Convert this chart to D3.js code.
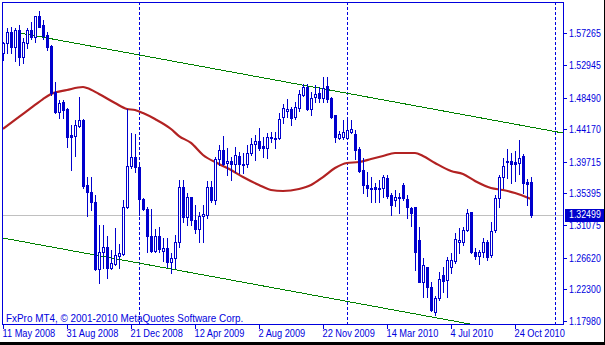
<!DOCTYPE html>
<html><head><meta charset="utf-8">
<script src="https://cdn.jsdelivr.net/npm/d3@7"></script>
<style>
body{margin:0;background:#fff;overflow:hidden}
svg{display:block}
text{font-family:"Liberation Sans",Arial,sans-serif;font-size:11px}
</style>
</head><body><svg id="chart" width="605" height="345"></svg>
<script>
// ---- data (EURUSD, W1) ----
const opens=[1.5458,1.5594,1.5744,1.5540,1.5772,1.5403,1.5594,1.5772,1.5676,1.5963,1.5840,1.5703,1.5553,1.4925,1.4652,1.4789,1.4693,1.4338,1.4324,1.4461,1.4543,1.3655,1.3560,1.3423,1.2508,1.2740,1.2809,1.2522,1.2576,1.2686,1.2713,1.3355,1.3915,1.4037,1.3901,1.3464,1.3327,1.2959,1.2754,1.2959,1.2754,1.2795,1.2604,1.2658,1.2877,1.3628,1.3218,1.3491,1.3177,1.3054,1.3232,1.3246,1.3628,1.3450,1.4010,1.4133,1.3956,1.3983,1.3942,1.4051,1.3935,1.3942,1.4092,1.4215,1.4256,1.4188,1.4160,1.4311,1.4283,1.4297,1.4584,1.4666,1.4693,1.4584,1.4707,1.4884,1.4993,1.4693,1.4857,1.4911,1.4843,1.5007,1.4843,1.4611,1.4297,1.4311,1.4297,1.4379,1.4351,1.4147,1.3860,1.3655,1.3614,1.3628,1.3601,1.3614,1.3751,1.3519,1.3450,1.3478,1.3655,1.3464,1.3341,1.3355,1.2904,1.2331,1.2535,1.2262,1.1921,1.2112,1.2426,1.2358,1.2535,1.2617,1.2877,1.2877,1.3041,1.3286,1.2740,1.2686,1.2740,1.2877,1.2699,1.3041,1.3478,1.3764,1.3983,1.3983,1.3969,1.3956,1.4051,1.3696,1.3696];
const highs=[1.5608,1.5799,1.5813,1.5799,1.5840,1.5662,1.5799,1.5881,1.5963,1.6031,1.5908,1.5744,1.5567,1.5062,1.4816,1.4816,1.4707,1.4474,1.4543,1.4857,1.4556,1.3764,1.3764,1.3519,1.3109,1.3109,1.2959,1.2768,1.3068,1.2850,1.3450,1.4693,1.4365,1.4351,1.3928,1.3478,1.3355,1.3327,1.3054,1.3082,1.2931,1.2931,1.2727,1.2972,1.3723,1.3723,1.3546,1.3491,1.3382,1.3286,1.3382,1.3710,1.3710,1.4037,1.4201,1.4324,1.4160,1.4037,1.4174,1.4106,1.4092,1.4201,1.4297,1.4338,1.4433,1.4311,1.4365,1.4379,1.4379,1.4638,1.4761,1.4829,1.4720,1.4789,1.4952,1.5034,1.5034,1.4925,1.5021,1.4993,1.5130,1.5130,1.4857,1.4611,1.4393,1.4543,1.4570,1.4543,1.4406,1.4174,1.4024,1.3833,1.3764,1.3682,1.3723,1.3792,1.3792,1.3546,1.3587,1.3546,1.3682,1.3519,1.3355,1.3355,1.3082,1.2658,1.2535,1.2331,1.2139,1.2467,1.2535,1.2672,1.2727,1.3000,1.3068,1.3082,1.3327,1.3286,1.2795,1.2768,1.2931,1.2904,1.3150,1.3519,1.3792,1.4024,1.4147,1.4092,1.4119,1.4270,1.4078,1.3737,1.3764];
const lows=[1.5362,1.5458,1.5458,1.5348,1.5294,1.5321,1.5526,1.5649,1.5608,1.5813,1.5649,1.5499,1.4884,1.4638,1.4570,1.4570,1.4174,1.3860,1.4051,1.4447,1.3614,1.3232,1.3314,1.2494,1.2317,1.2522,1.2385,1.2508,1.2563,1.2522,1.2699,1.3341,1.3887,1.3833,1.3246,1.3314,1.2740,1.2740,1.2740,1.2740,1.2617,1.2535,1.2453,1.2522,1.2809,1.3150,1.3109,1.3109,1.3000,1.2877,1.2877,1.3205,1.3423,1.3396,1.3928,1.3928,1.3792,1.3723,1.3833,1.3819,1.3819,1.3901,1.4065,1.3997,1.4133,1.4037,1.4024,1.4242,1.4160,1.4283,1.4502,1.4584,1.4474,1.4556,1.4666,1.4870,1.4679,1.4611,1.4789,1.4789,1.4789,1.4789,1.4570,1.4242,1.4283,1.4283,1.4283,1.4365,1.4010,1.3833,1.3546,1.3505,1.3423,1.3423,1.3423,1.3491,1.3478,1.3246,1.3368,1.3273,1.3450,1.3205,1.3095,1.2494,1.2331,1.2126,1.2126,1.1935,1.1880,1.2085,1.2194,1.2126,1.2453,1.2590,1.2727,1.2836,1.3027,1.2727,1.2645,1.2576,1.2672,1.2631,1.2672,1.3013,1.3355,1.3614,1.3751,1.3682,1.3710,1.3805,1.3546,1.3382,1.3218];
const closes=[1.5594,1.5744,1.5540,1.5772,1.5403,1.5608,1.5772,1.5676,1.5963,1.5813,1.5690,1.5540,1.4911,1.4652,1.4775,1.4679,1.4311,1.4311,1.4474,1.4543,1.3641,1.3560,1.3423,1.2508,1.2740,1.2809,1.2522,1.2590,1.2699,1.2727,1.3355,1.3915,1.4037,1.3901,1.3464,1.3327,1.2959,1.2754,1.2959,1.2781,1.2795,1.2604,1.2658,1.2877,1.3628,1.3218,1.3491,1.3177,1.3054,1.3232,1.3259,1.3628,1.3450,1.4010,1.4133,1.3942,1.3983,1.3942,1.4065,1.3942,1.3945,1.4092,1.4215,1.4256,1.4160,1.4160,1.4311,1.4297,1.4297,1.4556,1.4707,1.4693,1.4570,1.4720,1.4898,1.4993,1.4693,1.4843,1.4898,1.4843,1.4980,1.4829,1.4584,1.4311,1.4351,1.4379,1.4406,1.4420,1.4133,1.3846,1.3655,1.3614,1.3601,1.3601,1.3614,1.3764,1.3505,1.3382,1.3491,1.3491,1.3478,1.3355,1.3273,1.2740,1.2331,1.2563,1.2262,1.1948,1.2112,1.2372,1.2344,1.2631,1.2631,1.2918,1.2904,1.3041,1.3273,1.2740,1.2686,1.2740,1.2877,1.2672,1.3027,1.3478,1.3764,1.3915,1.3969,1.3942,1.3942,1.4024,1.3682,1.3669,1.3250];
// moving average read at selected bars
const maIndex=[0,4,8,10,12,16,20,21,24,28,31,33,35,38,42,44,47,50,54,57,60,64,67,70,74,77,80,83,86,89,92,95,98,103,105,108,112,115,118,122,125,128,132];
const maValues=[1.4420,1.4584,1.4748,1.4829,1.4898,1.4952,1.4993,1.4980,1.4898,1.4775,1.4693,1.4679,1.4638,1.4556,1.4420,1.4324,1.4229,1.4065,1.3942,1.3860,1.3764,1.3655,1.3587,1.3573,1.3601,1.3655,1.3764,1.3887,1.3956,1.3969,1.4010,1.4051,1.4092,1.4092,1.4051,1.3956,1.3846,1.3805,1.3710,1.3614,1.3587,1.3546,1.3464];
const priceTickLabels=["1.57265","1.52945","1.48490","1.44170","1.39715","1.35395","1.31075","1.26620","1.22300","1.17980"];
const dateTickLabels=["11 May 2008","31 Aug 2008","21 Dec 2008","12 Apr 2009","2 Aug 2009","22 Nov 2009","14 Mar 2010","4 Jul 2010","24 Oct 2010"];
const dateTickIndex=[0,16,32,48,64,80,96,112,128];
const yearSeparatorIndex=[34,86,138];
const channelUpper=[[4,1.5733],[140,1.4365]];
const channelLower=[[0,1.2931],[140,1.1523]];
const lastPrice=1.32499;
const lastPriceLabel="1.32499";
const copyrightText="FxPro MT4, \u00a9 2001-2010 MetaQuotes Software Corp.";

// ---- drawing ----
const blue="#0000dd", candleBlue="#0000cd";
const svg=d3.select("#chart");
const L=2,T=2,R=563,B=324;
const x=d3.scaleLinear().domain([0,140]).range([3,563]);
const y=d3.scaleLinear().domain([1.17571,1.61540]).range([B,T]);

svg.append("rect").attr("width",605).attr("height",345).attr("fill","#fff");
svg.append("defs").append("clipPath").attr("id","plot")
  .append("rect").attr("x",L+1).attr("y",T+1).attr("width",R-L-1).attr("height",B-T-1);

const plot=svg.append("g").attr("clip-path","url(#plot)");

// year separators
plot.selectAll(".sep").data(yearSeparatorIndex).join("line")
  .attr("x1",d=>Math.round(x(d))+0.5).attr("x2",d=>Math.round(x(d))+0.5)
  .attr("y1",T).attr("y2",B).attr("stroke",blue).attr("stroke-width",1)
  .attr("stroke-dasharray","3,2");

// bid line
plot.append("line").attr("x1",L).attr("x2",R)
  .attr("y1",Math.round(y(lastPrice))+0.5).attr("y2",Math.round(y(lastPrice))+0.5)
  .attr("stroke","#c0c0c0").attr("stroke-width",1);

// channel
[channelUpper,channelLower].forEach(c=>{
  plot.append("line").attr("x1",x(c[0][0])).attr("y1",y(c[0][1]))
    .attr("x2",x(c[1][0])).attr("y2",y(c[1][1]))
    .attr("stroke","#008000").attr("stroke-width",1).attr("shape-rendering","crispEdges");
});

// moving average
const ma=maIndex.map((d,k)=>[d,maValues[k]]);
plot.append("path").datum(ma)
  .attr("d",d3.line().x(d=>x(d[0])).y(d=>y(d[1])).curve(d3.curveMonotoneX))
  .attr("fill","none").attr("stroke","#b22222").attr("stroke-width",2.2);

// candles
const bars=opens.map((o,i)=>({i,o,h:highs[i],l:lows[i],c:closes[i]}));
const g=plot.selectAll(".bar").data(bars).join("g");
g.append("line")
  .attr("x1",d=>Math.round(x(d.i))+0.5).attr("x2",d=>Math.round(x(d.i))+0.5)
  .attr("y1",d=>Math.round(y(d.h))).attr("y2",d=>Math.round(y(d.l))+1)
  .attr("stroke",candleBlue).attr("stroke-width",1);
g.each(function(d){
  const cx=Math.round(x(d.i));
  const yo=Math.round(y(d.o)), yc=Math.round(y(d.c));
  const s=d3.select(this);
  if(d.c>=d.o){
    s.append("rect").attr("x",cx-0.5).attr("y",yc+0.5).attr("width",2).attr("height",Math.max(yo-yc,0))
      .attr("fill","#fff").attr("stroke",candleBlue).attr("stroke-width",1);
  }else{
    s.append("rect").attr("x",cx-1).attr("y",yo).attr("width",3).attr("height",yc-yo+1)
      .attr("fill",candleBlue);
  }
});

// frame
const fr=svg.append("g").attr("stroke",blue).attr("stroke-width",1);
fr.append("line").attr("x1",L+0.5).attr("x2",L+0.5).attr("y1",T).attr("y2",B+1);
fr.append("line").attr("x1",L).attr("x2",R+1).attr("y1",T+0.5).attr("y2",T+0.5);
fr.append("line").attr("x1",R+0.5).attr("x2",R+0.5).attr("y1",T).attr("y2",B+1);
fr.append("line").attr("x1",L).attr("x2",R+1).attr("y1",B+0.5).attr("y2",B+0.5);

function squeeze(sel,f){sel.each(function(){const w=this.getComputedTextLength();
  d3.select(this).attr("textLength",w*f).attr("lengthAdjust","spacingAndGlyphs");});}

// price axis
const pt=svg.append("g");
priceTickLabels.forEach(t=>{
  const yy=Math.round(y(+t));
  pt.append("line").attr("x1",R).attr("x2",R+4).attr("y1",yy+0.5).attr("y2",yy+0.5)
    .attr("stroke",blue);
  pt.append("text").attr("transform",`translate(569,${yy+3.5}) scale(0.88,1)`)
    .attr("fill",blue).style("font-size","10px").text(t);
});

// date axis
const dt=svg.append("g");
dateTickIndex.forEach((d,k)=>{
  const xx=Math.round(x(d));
  dt.append("line").attr("x1",xx+0.5).attr("x2",xx+0.5).attr("y1",B).attr("y2",B+5).attr("stroke",blue);
  dt.append("text").attr("x",xx-0.5).attr("y",337).attr("fill",blue).text(dateTickLabels[k]);
});
squeeze(dt.selectAll("text"),0.84);

// copyright
const cp=svg.append("text").attr("x",6).attr("y",322).attr("fill",blue).text(copyrightText);
squeeze(cp,0.9);

// last price label
const ly=Math.round(y(lastPrice));
svg.append("rect").attr("x",565).attr("y",ly-6).attr("width",39).attr("height",13).attr("fill",candleBlue);
svg.append("text").attr("transform",`translate(569,${ly+3}) scale(0.88,1)`)
  .attr("fill","#fff").style("font-size","10px").text(lastPriceLabel);

// window border
svg.append("rect").attr("x",604).attr("y",0).attr("width",1).attr("height",345).attr("fill","#000");
svg.append("rect").attr("x",0).attr("y",342).attr("width",605).attr("height",3).attr("fill","#000");
</script></body></html>
